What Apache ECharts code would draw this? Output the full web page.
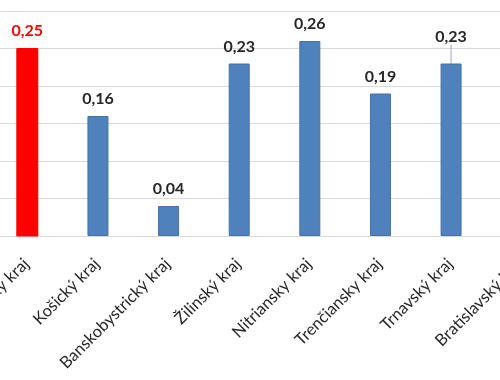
<!DOCTYPE html>
<html><head><meta charset="utf-8">
<script src="https://cdn.jsdelivr.net/npm/echarts@6/dist/echarts.min.js"></script>
<style>html,body{margin:0;padding:0;background:#fff}#c{width:500px;height:380px}</style>
</head><body><div id="c"></div>
<script>
const categories = ["Prešovský kraj","Košický kraj","Banskobystrický kraj","Žilinský kraj","Nitriansky kraj","Trenčiansky kraj","Trnavský kraj","Bratislavský kraj"];
const values = [0.25,0.16,0.04,0.23,0.26,0.19,0.23,0.20];
const highlightIndex = 0;
const movedLabelIndex = 6;

const chart = echarts.init(document.getElementById('c'));
const font = 'Lato, "Open Sans", sans-serif';
chart.setOption({
  animation:false,
  grid:{left:-8,right:-57,top:11,bottom:144,containLabel:false,outerBoundsMode:'none'},
  xAxis:{type:'category',data:categories,
    axisLine:{lineStyle:{color:'#d9d9d9'}},axisTick:{show:false},
    axisLabel:{interval:0,rotate:45,margin:12,verticalAlign:'top',padding:[0,10,0,0],fontSize:16.5,color:'#262626',fontFamily:font}},
  yAxis:{type:'value',min:0,max:0.3,interval:0.05,
    axisLabel:{show:false},axisLine:{show:false},axisTick:{show:false},
    splitLine:{lineStyle:{color:'#d9d9d9'}}},
  series:[{type:'bar',barWidth:21,
    data:values.map((v,i)=>({value:v,
      itemStyle:i===highlightIndex?{color:'#ff0000',borderColor:'#ff0000'}:{color:'#4f81bd',borderColor:'#4372aa',borderWidth:1},
      label:i===highlightIndex?{color:'#ff0000'}:{},
      labelLine:{show:i===movedLabelIndex,lineStyle:{color:'#a6a6a6',width:1}} })),
    label:{show:true,position:'top',distance:9,fontSize:16,fontWeight:'bold',color:'#262626',fontFamily:font,
      formatter:p=>p.value.toFixed(2).replace('.',',')},
    labelLayout:function(p){ if(p.dataIndex===movedLabelIndex) return {dy:-10}; return {}; },
    labelLine:{show:false}
  }]
});
</script></body></html>
